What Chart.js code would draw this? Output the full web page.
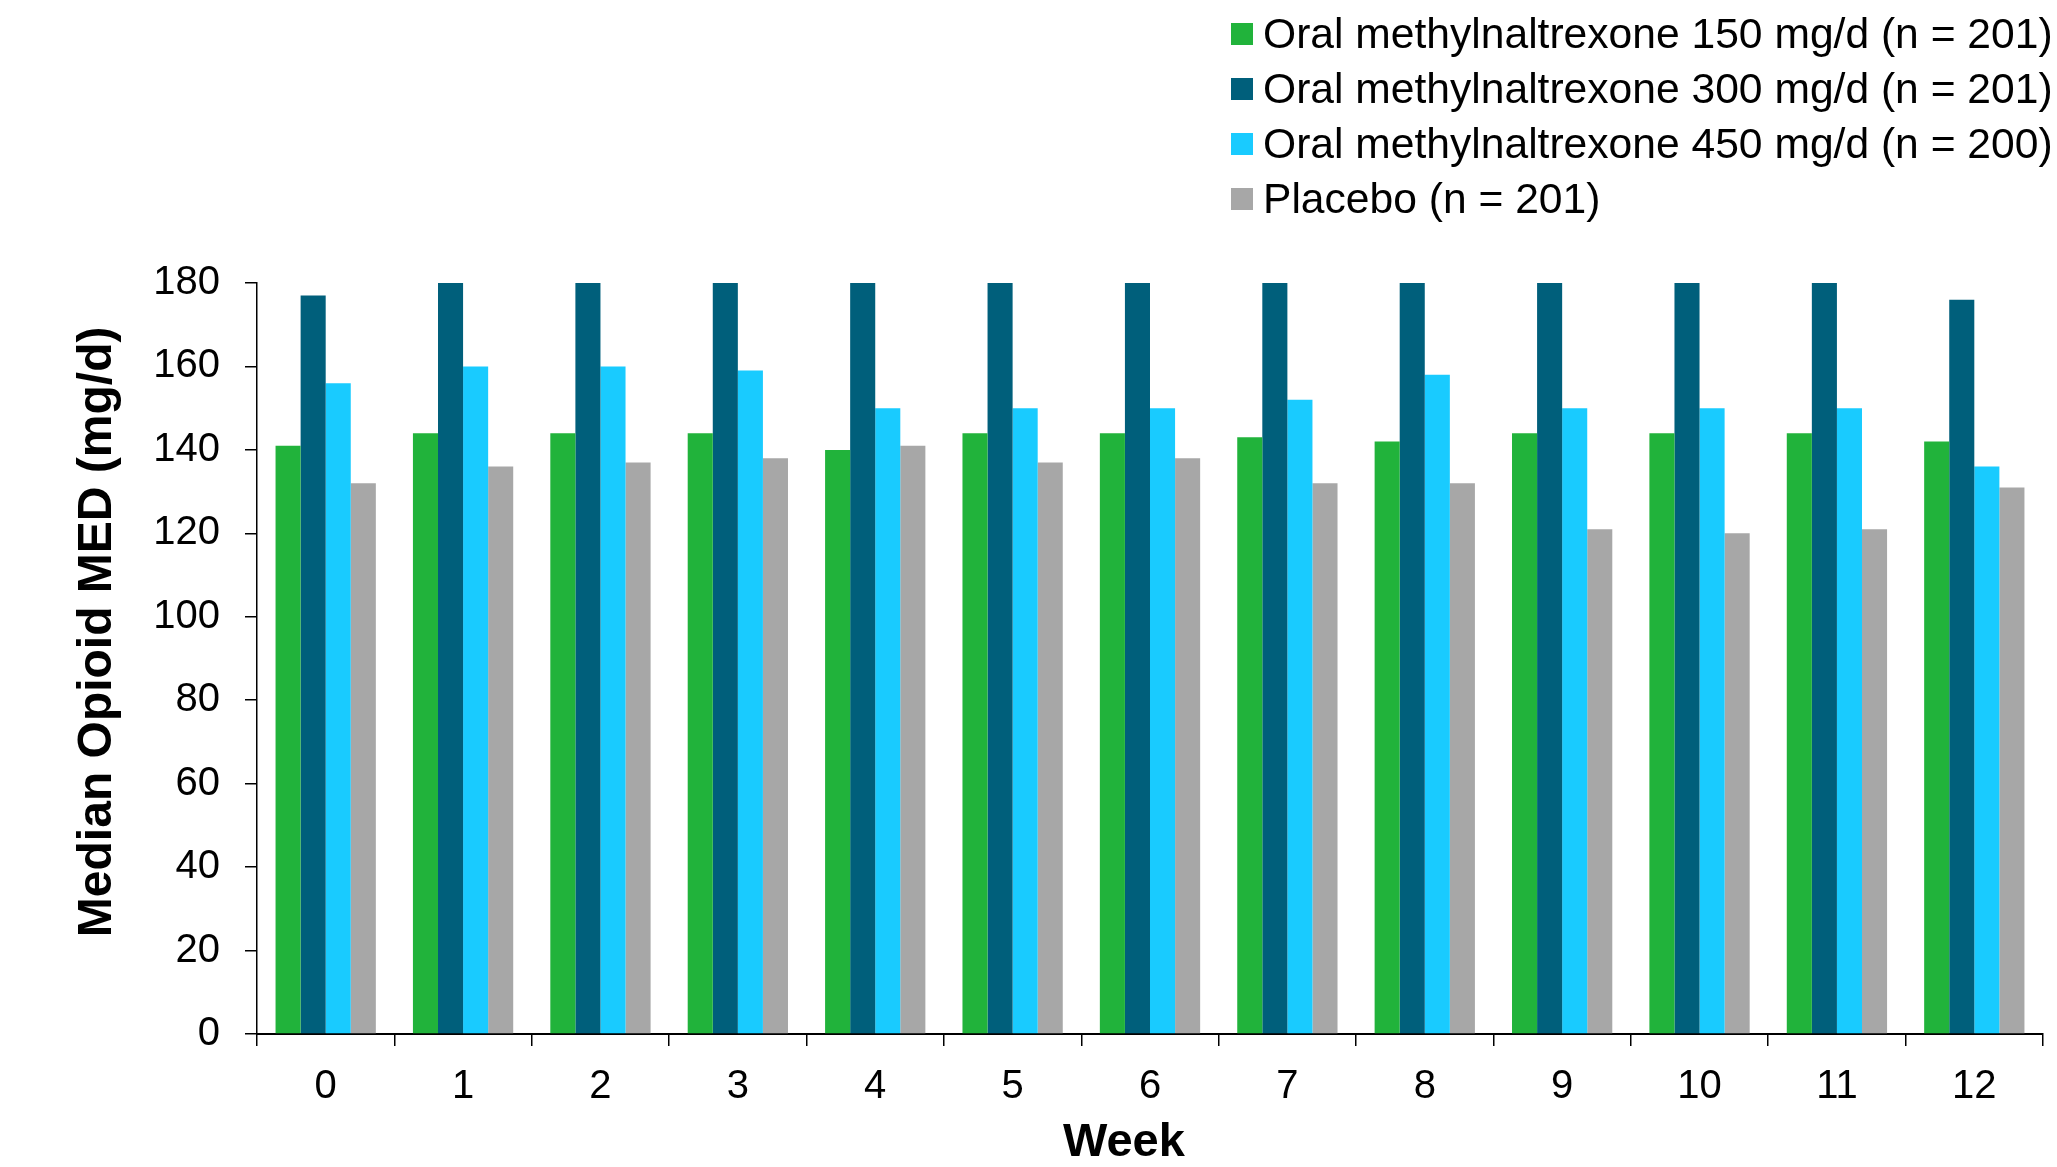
<!DOCTYPE html>
<html>
<head>
<meta charset="utf-8">
<script src="https://cdn.jsdelivr.net/npm/chart.js@4/dist/chart.umd.min.js"></script>
<style>
  html, body { margin: 0; padding: 0; background: #fff; }
  #medChart { display: block; }
</style>
</head>
<body>
<canvas id="medChart" width="2057" height="1167"></canvas>
<script>
const weeks = ['0', '1', '2', '3', '4', '5', '6', '7', '8', '9', '10', '11', '12'];
const mntx150 = [141, 144, 144, 144, 140, 144, 144, 143, 142, 144, 144, 144, 142];
const mntx300 = [177, 180, 180, 180, 180, 180, 180, 180, 180, 180, 180, 180, 176];
const mntx450 = [156, 160, 160, 159, 150, 150, 150, 152, 158, 150, 150, 150, 136];
const placebo = [132, 136, 137, 138, 141, 137, 138, 132, 132, 121, 120, 121, 131];
const seriesLabels = [
    'Oral methylnaltrexone 150 mg/d (n = 201)',
    'Oral methylnaltrexone 300 mg/d (n = 201)',
    'Oral methylnaltrexone 450 mg/d (n = 200)',
    'Placebo (n = 201)'
];
const yMin = 0, yMax = 180, yStep = 20;

const FONT = "'Liberation Sans', Arial, Helvetica, sans-serif";

// legend drawn by hand: one entry per row, top right
const stackedLegend = {
    id: 'stackedLegend',
    afterDraw(chart) {
        const ctx = chart.ctx;
        ctx.save();
        ctx.font = `42.6px ${FONT}`;
        ctx.textBaseline = 'middle';
        ctx.textAlign = 'left';
        chart.data.datasets.forEach((ds, i) => {
            const cy = 34 + i * 55;
            ctx.fillStyle = ds.backgroundColor;
            ctx.fillRect(1231, cy - 11, 22, 22);
            ctx.fillStyle = '#000';
            ctx.fillText(ds.label, 1263, cy + 2);
        });
        ctx.restore();
    }
};

const ctx = document.getElementById('medChart').getContext('2d');
const chart = new Chart(ctx, {
    type: 'bar',
    data: {
        labels: weeks,
        datasets: [
            { label: seriesLabels[0], data: mntx150, backgroundColor: '#21B33B' },
            { label: seriesLabels[1], data: mntx300, backgroundColor: '#005F7B' },
            { label: seriesLabels[2], data: mntx450, backgroundColor: '#19CBFF' },
            { label: seriesLabels[3], data: placebo, backgroundColor: '#A7A7A7' }
        ]
    },
    options: {
        responsive: false,
        animation: false,
        devicePixelRatio: 1,
        layout: { padding: { top: 283, right: 14, bottom: 0, left: 0 } },
        datasets: { bar: { categoryPercentage: 0.73, barPercentage: 1.0, borderWidth: 0 } },
        plugins: { legend: { display: false }, tooltip: { enabled: false } },
        scales: {
            x: {
                grid: { offset: true, drawOnChartArea: false, drawTicks: true, tickLength: 12, color: '#000', lineWidth: 1.5 },
                border: { display: true, color: '#000', width: 2 },
                ticks: { color: '#000', font: { family: FONT, size: 40 }, padding: 17, maxRotation: 0 },
                title: { display: true, text: 'Week    ', color: '#000', font: { family: FONT, size: 47, weight: 'bold', lineHeight: 1 }, padding: 0 },
                afterFit(scale) { scale.height = 133; }
            },
            y: {
                min: yMin,
                max: yMax,
                grid: { drawOnChartArea: false, drawTicks: true, tickLength: 12, color: '#000', lineWidth: 1.5 },
                border: { display: true, color: '#000', width: 1.5 },
                ticks: { stepSize: yStep, color: '#000', font: { family: FONT, size: 40 }, padding: 25 },
                title: { display: true, text: '    Median Opioid MED (mg/d)', color: '#000', font: { family: FONT, size: 48, weight: 'bold', lineHeight: 1 }, padding: { top: 74, bottom: 0 } },
                afterFit(scale) { scale.width = 257; }
            }
        }
    },
    plugins: [stackedLegend]
});
</script>
</body>
</html>
